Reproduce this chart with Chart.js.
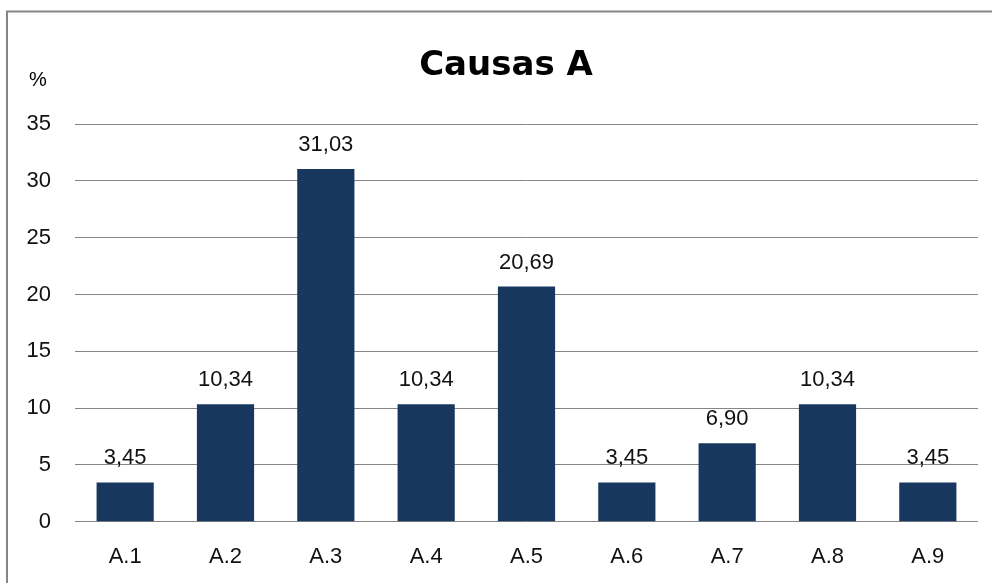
<!DOCTYPE html>
<html>
<head>
<meta charset="utf-8">
<script src="https://cdn.jsdelivr.net/npm/chart.js@4/dist/chart.umd.min.js"></script>
<style>
html,body{margin:0;padding:0;background:#fff;}
#wrap{width:992px;height:583px;position:relative;}
</style>
</head>
<body>
<div id="wrap"><canvas id="c" width="992" height="583"></canvas></div>
<script>
const chartTitle = "Causas A";
const axisUnit = "%";
const categories = ["A.1","A.2","A.3","A.4","A.5","A.6","A.7","A.8","A.9"];
const values = [3.45, 10.34, 31.03, 10.34, 20.69, 3.45, 6.90, 10.34, 3.45];
const yMin = 0, yMax = 35, yStep = 5;

const FONT = "'Liberation Sans', Arial, sans-serif";
const GRID = "#868686";
const BAR = "#17375E";

const decor = {
  id: "decor",
  beforeDraw(chart) {
    const ctx = chart.ctx;
    ctx.save();
    ctx.fillStyle = "#fff";
    ctx.fillRect(0, 0, chart.width, chart.height);
    ctx.strokeStyle = GRID;
    ctx.lineWidth = 2;
    ctx.beginPath();
    ctx.moveTo(7, chart.height);
    ctx.lineTo(7, 11.5);
    ctx.lineTo(chart.width, 11.5);
    ctx.stroke();
    ctx.restore();
  },
  afterDraw(chart) {
    const ctx = chart.ctx;
    ctx.save();
    ctx.fillStyle = "#000";
    ctx.textAlign = "center";
    ctx.textBaseline = "middle";
    ctx.font = "bold 34px 'DejaVu Sans', sans-serif";
    ctx.fillText(chartTitle, 506, 66);
    ctx.font = "20px " + FONT;
    ctx.fillText(axisUnit, 38, 80);
    ctx.restore();
  },
  afterDatasetsDraw(chart) {
    const ctx = chart.ctx;
    const meta = chart.getDatasetMeta(0);
    ctx.save();
    ctx.fillStyle = "#111";
    ctx.font = "22px " + FONT;
    ctx.textAlign = "center";
    ctx.textBaseline = "alphabetic";
    meta.data.forEach((bar, i) => {
      const txt = values[i].toFixed(2).replace(".", ",");
      ctx.fillText(txt, bar.x, bar.y - 18);
    });
    ctx.restore();
  }
};

new Chart(document.getElementById("c"), {
  type: "bar",
  data: {
    labels: categories,
    datasets: [{
      data: values,
      backgroundColor: BAR,
      borderWidth: 0,
      categoryPercentage: 1,
      barPercentage: 0.57
    }]
  },
  options: {
    responsive: false,
    animation: false,
    devicePixelRatio: 1,
    layout: { padding: { left: 0, right: 14, top: 124, bottom: 0 } },
    plugins: { legend: { display: false }, title: { display: false }, tooltip: { enabled: false } },
    scales: {
      x: {
        grid: { display: false, drawTicks: false },
        border: { display: false },
        ticks: { color: "#111", font: { family: FONT, size: 22 }, padding: 22 },
        afterFit(s) { s.height = 61.3; }
      },
      y: {
        min: yMin, max: yMax,
        grid: { color: GRID, lineWidth: 1, drawTicks: false },
        border: { display: false },
        ticks: { stepSize: yStep, color: "#111", font: { family: FONT, size: 22 }, padding: 24 },
        afterFit(s) { s.width = 75; }
      }
    }
  },
  plugins: [decor]
});
</script>
</body>
</html>
